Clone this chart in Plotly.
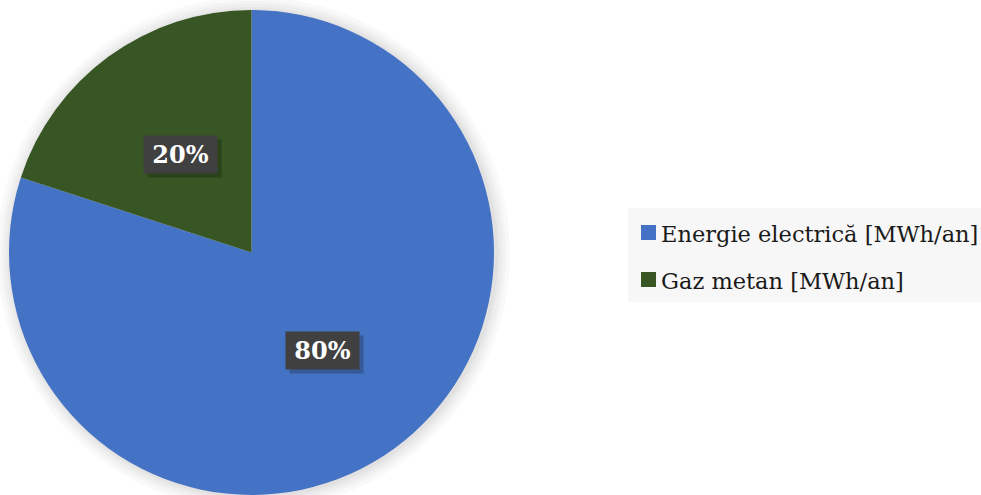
import math
import plotly.graph_objects as go

labels = ["Energie electrică [MWh/an]", "Gaz metan [MWh/an]"]
values = [80, 20]
colors = ["#4472C4", "#375623"]

W, H = 981, 495
# pie domain in paper coordinates
dom_x = [9 / W, 494 / W]
dom_y = [0, 0.98]

fig = go.Figure()
fig.add_trace(go.Pie(
    labels=labels, values=values, sort=False, direction="clockwise", rotation=0,
    marker=dict(colors=colors, line=dict(width=0)),
    textinfo="none", hoverinfo="label+percent", showlegend=False,
    domain=dict(x=dom_x, y=dom_y),
))

# pixel geometry of the pie derived from its domain
cx = (dom_x[0] + dom_x[1]) / 2 * W
cy = H - (dom_y[0] + dom_y[1]) / 2 * H
r = min((dom_x[1] - dom_x[0]) * W, (dom_y[1] - dom_y[0]) * H) / 2

def px2paper(x, y):
    return x / W, 1 - y / H

shapes = []
# soft shadow around the pie
for i, extra in enumerate([14, 10, 7, 4, 2]):
    rr = r + extra
    x0, y0 = px2paper(cx + 2 - rr, cy + 1 - rr)
    x1, y1 = px2paper(cx + 2 + rr, cy + 1 + rr)
    shapes.append(dict(type="circle", xref="paper", yref="paper", x0=x0, x1=x1, y0=y1, y1=y0,
                       fillcolor="rgba(0,0,0,0.022)", line=dict(width=0), layer="below"))

annotations = []
total = sum(values)
start = 0.0
for v in values:
    frac = v / total
    mid = (start + frac / 2) * 2 * math.pi  # clockwise from 12 o'clock
    start += frac
    lx = cx + 0.5 * r * math.sin(mid)
    ly = cy - 0.5 * r * math.cos(mid)
    txt = f"{round(frac * 100)}%"
    # drop shadow of the label box
    sx, sy = px2paper(lx + 4, ly + 4)
    annotations.append(dict(x=sx, y=sy, xref="paper", yref="paper", text=" ",
                            showarrow=False, width=65, height=29, borderpad=4,
                            bgcolor="rgba(0,0,0,0.22)", xanchor="center", yanchor="middle"))
    ax, ay = px2paper(lx, ly)
    annotations.append(dict(x=ax, y=ay, xref="paper", yref="paper",
                            text=f"<b>{txt}</b>", showarrow=False, width=65, height=29,
                            borderpad=4, bgcolor="#404040",
                            font=dict(family="DejaVu Serif", size=24, color="white"),
                            xanchor="center", yanchor="middle"))

# manual legend
lx0, ly0, lx1, ly1 = 628, 208, 981, 302
x0, y0 = px2paper(lx0, ly0)
x1, y1 = px2paper(lx1, ly1)
shapes.append(dict(type="rect", xref="paper", yref="paper", x0=x0, x1=x1, y0=y1, y1=y0,
                   fillcolor="#F7F7F7", line=dict(width=0), layer="below"))
row_y = [232.5, 279.5]
for lab, col, yy in zip(labels, colors, row_y):
    a0, b0 = px2paper(641, yy - 7.5)
    a1, b1 = px2paper(656, yy + 7.5)
    shapes.append(dict(type="rect", xref="paper", yref="paper", x0=a0, x1=a1, y0=b1, y1=b0,
                       fillcolor=col, line=dict(width=0)))
    tx, ty = px2paper(659, yy + 1)
    annotations.append(dict(x=tx, y=ty, xref="paper", yref="paper", text=lab,
                            showarrow=False, xanchor="left", yanchor="middle",
                            font=dict(family="DejaVu Serif", size=22.5, color="#1a1a1a")))

fig.update_layout(
    width=W, height=H, margin=dict(l=0, r=0, t=0, b=0),
    paper_bgcolor="white", plot_bgcolor="white",
    shapes=shapes, annotations=annotations, showlegend=False,
)
fig.write_html("out.html")
